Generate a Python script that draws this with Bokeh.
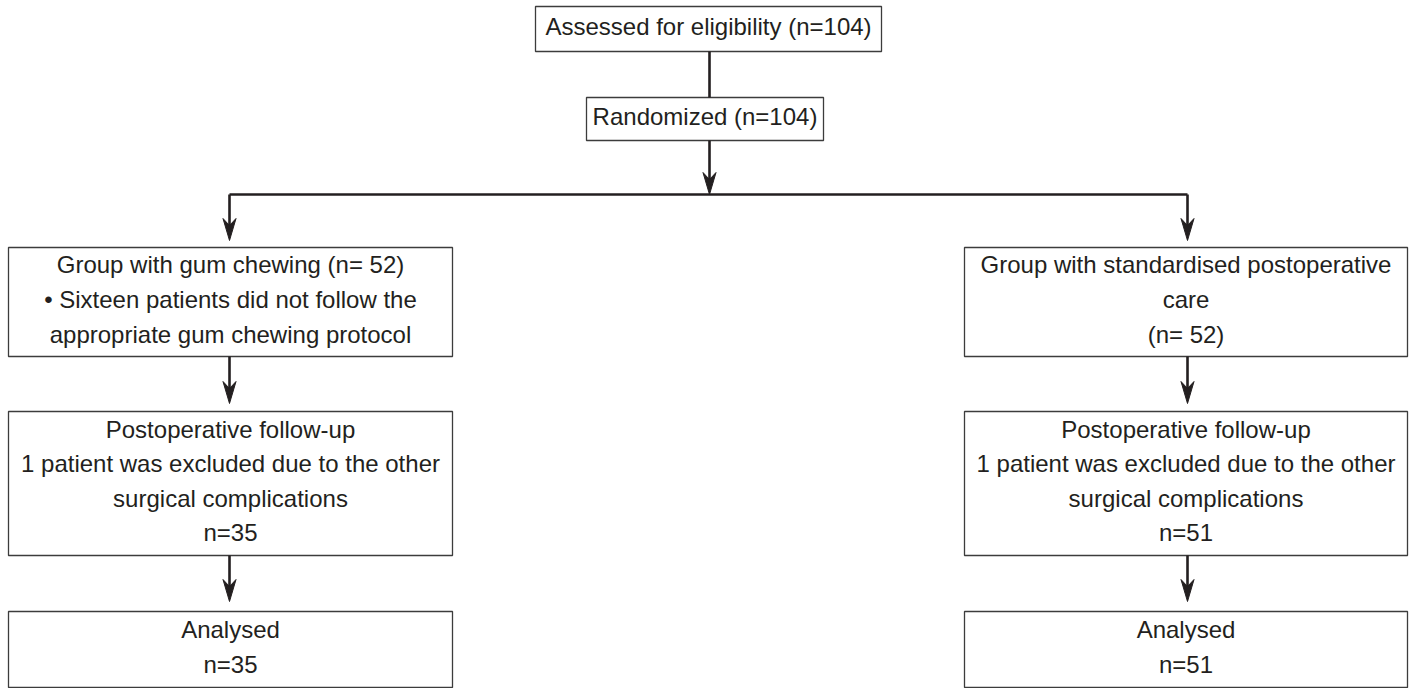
from bokeh.plotting import figure
from bokeh.models import Range1d
from bokeh.core.properties import value
from bokeh.embed import file_html
from bokeh.resources import INLINE

# ---- flowchart content ----
assessed_text = ["Assessed for eligibility (n=104)"]
randomized_text = ["Randomized (n=104)"]
gum_group_text = ["Group with gum chewing (n= 52)",
                  "\u2022 Sixteen patients did not follow the",
                  "appropriate gum chewing protocol"]
std_group_text = ["Group with standardised postoperative", "care", "(n= 52)"]
gum_follow_text = ["Postoperative follow-up",
                   "1 patient was excluded due to the other",
                   "surgical complications", "n=35"]
std_follow_text = ["Postoperative follow-up",
                   "1 patient was excluded due to the other",
                   "surgical complications", "n=51"]
gum_analysed_text = ["Analysed", "n=35"]
std_analysed_text = ["Analysed", "n=51"]

box_texts = [assessed_text, randomized_text, gum_group_text, std_group_text,
             gum_follow_text, std_follow_text, gum_analysed_text, std_analysed_text]

# ---- layout (left, right, top, bottom) in page pixels ----
box_layout = [(535, 881, 6, 51), (586, 823, 97, 140),
              (8, 452, 247, 356), (964, 1407, 247, 356),
              (8, 452, 411, 555), (964, 1407, 411, 555),
              (8, 452, 611, 687), (964, 1407, 611, 687)]

# connectors: (points, has_arrow)
connectors = [([(709, 51), (709, 97)], False),
              ([(709, 140), (709, 194)], True),
              ([(229, 194), (1187, 194)], False),
              ([(229, 194), (229, 240)], True),
              ([(1187, 194), (1187, 240)], True),
              ([(229, 356), (229, 403)], True),
              ([(1187, 356), (1187, 403)], True),
              ([(229, 555), (229, 601)], True),
              ([(1187, 555), (1187, 601)], True)]

TEXT_COLOR = "#231f20"
LINE_COLOR = "#231f20"
BOX_COLOR = "#3c3c3c"
LINE_H = 34.6
FONT_PX = 24
TEXT_SHIFT = -2.5

p = figure(width=1410, height=688, output_backend="svg", toolbar_location=None,
           x_range=Range1d(0, 1410), y_range=Range1d(688, 0),
           min_border=0, background_fill_color="white", border_fill_color="white")
p.axis.visible = False
p.grid.visible = False
p.outline_line_color = None

# boxes
p.quad(left=[b[0] for b in box_layout], right=[b[1] for b in box_layout],
       top=[b[2] for b in box_layout], bottom=[b[3] for b in box_layout],
       fill_color="white", line_color=BOX_COLOR, line_width=1.3)

# connector lines and arrowheads
xs_lines, ys_lines = [], []
head_xs, head_ys = [], []
HEAD_LEN, HEAD_HALF, NOTCH = 22, 6.5, 15
for pts, arrow in connectors:
    (x0, y0), (x1, y1) = pts
    if arrow:
        xs_lines.append([x0, x1])
        ys_lines.append([y0, y1 - NOTCH + 2])
        head_xs.append([x1, x1 - HEAD_HALF, x1, x1 + HEAD_HALF])
        head_ys.append([y1, y1 - HEAD_LEN, y1 - NOTCH, y1 - HEAD_LEN])
    else:
        xs_lines.append([x0, x1])
        ys_lines.append([y0, y1])

p.multi_line(xs=xs_lines, ys=ys_lines, line_color=LINE_COLOR, line_width=2.6)
p.patches(xs=head_xs, ys=head_ys, fill_color=LINE_COLOR, line_color=LINE_COLOR, line_width=1)

# text
tx, ty, tt = [], [], []
for lines, (l, r, t, b) in zip(box_texts, box_layout):
    cx = (l + r) / 2
    cy = (t + b) / 2 + TEXT_SHIFT
    n = len(lines)
    for i, s in enumerate(lines):
        tx.append(cx)
        ty.append(cy + (i - (n - 1) / 2) * LINE_H)
        tt.append(s)

p.text(x=tx, y=ty, text=tt, text_align="center", text_baseline="alphabetic",
       text_font=value("Liberation Sans"), text_font_size=f"{FONT_PX}px",
       text_color=TEXT_COLOR)

open("out.html", "w").write(file_html(p, INLINE))
